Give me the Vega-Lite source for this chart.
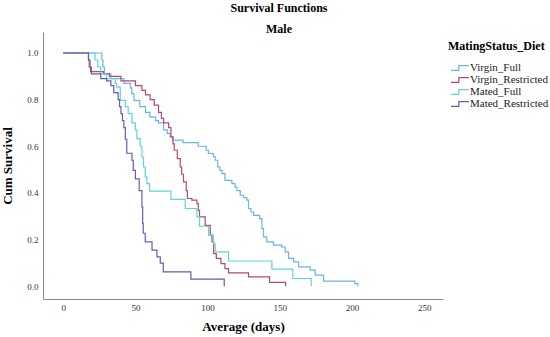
{
  "$schema": "https://vega.github.io/schema/vega-lite/v6.json",
  "width": 400,
  "height": 267,
  "autosize": {"type": "none"},
  "padding": {"left": 43, "top": 32, "right": 107, "bottom": 38},
  "background": "white",
  "title": {
    "text": "Survival Functions",
    "subtitle": "Male",
    "anchor": "middle",
    "frame": "group",
    "dx": 36,
    "offset": -4,
    "font": "Liberation Serif",
    "fontSize": 12,
    "fontWeight": "bold",
    "color": "#000",
    "subtitleFont": "Liberation Serif",
    "subtitleFontSize": 12,
    "subtitleFontWeight": "bold",
    "subtitleColor": "#000",
    "subtitlePadding": 9
  },
  "config": {
    "view": {"stroke": null},
    "axis": {
      "grid": false,
      "ticks": false,
      "domainColor": "#8a8a8a",
      "domainWidth": 1,
      "labelFont": "Liberation Serif",
      "labelFontSize": 9,
      "labelColor": "#333",
      "titleFont": "Liberation Serif",
      "titleFontSize": 13,
      "titleFontWeight": "bold",
      "titleColor": "#000"
    }
  },
  "data": {
    "values": [
      {"g": "Virgin_Full", "day": 0, "s": 1},
      {"g": "Virgin_Full", "day": 26.8, "s": 0.97},
      {"g": "Virgin_Full", "day": 27.5, "s": 0.94},
      {"g": "Virgin_Full", "day": 28.5, "s": 0.91},
      {"g": "Virgin_Full", "day": 33, "s": 0.89},
      {"g": "Virgin_Full", "day": 42, "s": 0.87},
      {"g": "Virgin_Full", "day": 46.5, "s": 0.85},
      {"g": "Virgin_Full", "day": 47.5, "s": 0.826},
      {"g": "Virgin_Full", "day": 49, "s": 0.797},
      {"g": "Virgin_Full", "day": 53, "s": 0.77},
      {"g": "Virgin_Full", "day": 57, "s": 0.745},
      {"g": "Virgin_Full", "day": 60, "s": 0.726},
      {"g": "Virgin_Full", "day": 64, "s": 0.71},
      {"g": "Virgin_Full", "day": 66, "s": 0.7},
      {"g": "Virgin_Full", "day": 69.5, "s": 0.67},
      {"g": "Virgin_Full", "day": 72, "s": 0.655},
      {"g": "Virgin_Full", "day": 74, "s": 0.64},
      {"g": "Virgin_Full", "day": 76, "s": 0.626},
      {"g": "Virgin_Full", "day": 83, "s": 0.616},
      {"g": "Virgin_Full", "day": 93.5, "s": 0.6},
      {"g": "Virgin_Full", "day": 99, "s": 0.583},
      {"g": "Virgin_Full", "day": 100.5, "s": 0.569},
      {"g": "Virgin_Full", "day": 104, "s": 0.555},
      {"g": "Virgin_Full", "day": 105.3, "s": 0.54},
      {"g": "Virgin_Full", "day": 107, "s": 0.511},
      {"g": "Virgin_Full", "day": 108.5, "s": 0.497},
      {"g": "Virgin_Full", "day": 110, "s": 0.483},
      {"g": "Virgin_Full", "day": 112, "s": 0.454},
      {"g": "Virgin_Full", "day": 116.8, "s": 0.44},
      {"g": "Virgin_Full", "day": 119, "s": 0.425},
      {"g": "Virgin_Full", "day": 120.3, "s": 0.41},
      {"g": "Virgin_Full", "day": 122.6, "s": 0.39},
      {"g": "Virgin_Full", "day": 125, "s": 0.38},
      {"g": "Virgin_Full", "day": 127.2, "s": 0.369},
      {"g": "Virgin_Full", "day": 128.3, "s": 0.333},
      {"g": "Virgin_Full", "day": 130, "s": 0.318},
      {"g": "Virgin_Full", "day": 131.8, "s": 0.304},
      {"g": "Virgin_Full", "day": 136, "s": 0.29},
      {"g": "Virgin_Full", "day": 137.6, "s": 0.247},
      {"g": "Virgin_Full", "day": 138.7, "s": 0.211},
      {"g": "Virgin_Full", "day": 141, "s": 0.19},
      {"g": "Virgin_Full", "day": 145.6, "s": 0.176},
      {"g": "Virgin_Full", "day": 151.4, "s": 0.168},
      {"g": "Virgin_Full", "day": 153.7, "s": 0.147},
      {"g": "Virgin_Full", "day": 156, "s": 0.119},
      {"g": "Virgin_Full", "day": 159.5, "s": 0.104},
      {"g": "Virgin_Full", "day": 163, "s": 0.083},
      {"g": "Virgin_Full", "day": 171, "s": 0.069},
      {"g": "Virgin_Full", "day": 174.5, "s": 0.047},
      {"g": "Virgin_Full", "day": 180.3, "s": 0.022},
      {"g": "Virgin_Full", "day": 202, "s": 0.011},
      {"g": "Virgin_Full", "day": 204, "s": 0},

      {"g": "Virgin_Restricted", "day": 0, "s": 1},
      {"g": "Virgin_Restricted", "day": 17.5, "s": 0.97},
      {"g": "Virgin_Restricted", "day": 18, "s": 0.94},
      {"g": "Virgin_Restricted", "day": 19, "s": 0.92},
      {"g": "Virgin_Restricted", "day": 28, "s": 0.91},
      {"g": "Virgin_Restricted", "day": 32, "s": 0.9},
      {"g": "Virgin_Restricted", "day": 40, "s": 0.88},
      {"g": "Virgin_Restricted", "day": 50, "s": 0.86},
      {"g": "Virgin_Restricted", "day": 54.5, "s": 0.84},
      {"g": "Virgin_Restricted", "day": 57, "s": 0.82},
      {"g": "Virgin_Restricted", "day": 60.2, "s": 0.8},
      {"g": "Virgin_Restricted", "day": 63, "s": 0.776},
      {"g": "Virgin_Restricted", "day": 66, "s": 0.745},
      {"g": "Virgin_Restricted", "day": 68, "s": 0.72},
      {"g": "Virgin_Restricted", "day": 69.5, "s": 0.7},
      {"g": "Virgin_Restricted", "day": 73, "s": 0.68},
      {"g": "Virgin_Restricted", "day": 74.6, "s": 0.64},
      {"g": "Virgin_Restricted", "day": 76, "s": 0.61},
      {"g": "Virgin_Restricted", "day": 76.9, "s": 0.583},
      {"g": "Virgin_Restricted", "day": 79, "s": 0.547},
      {"g": "Virgin_Restricted", "day": 81, "s": 0.511},
      {"g": "Virgin_Restricted", "day": 82, "s": 0.48},
      {"g": "Virgin_Restricted", "day": 83.3, "s": 0.447},
      {"g": "Virgin_Restricted", "day": 85.2, "s": 0.41},
      {"g": "Virgin_Restricted", "day": 86, "s": 0.376},
      {"g": "Virgin_Restricted", "day": 89.1, "s": 0.369},
      {"g": "Virgin_Restricted", "day": 92.6, "s": 0.354},
      {"g": "Virgin_Restricted", "day": 93.5, "s": 0.325},
      {"g": "Virgin_Restricted", "day": 94.4, "s": 0.297},
      {"g": "Virgin_Restricted", "day": 98.3, "s": 0.261},
      {"g": "Virgin_Restricted", "day": 101.8, "s": 0.219},
      {"g": "Virgin_Restricted", "day": 103, "s": 0.19},
      {"g": "Virgin_Restricted", "day": 104.2, "s": 0.14},
      {"g": "Virgin_Restricted", "day": 106, "s": 0.119},
      {"g": "Virgin_Restricted", "day": 109.2, "s": 0.097},
      {"g": "Virgin_Restricted", "day": 112, "s": 0.075},
      {"g": "Virgin_Restricted", "day": 114.5, "s": 0.057},
      {"g": "Virgin_Restricted", "day": 128.3, "s": 0.04},
      {"g": "Virgin_Restricted", "day": 142.9, "s": 0.016},
      {"g": "Virgin_Restricted", "day": 154, "s": 0},

      {"g": "Mated_Full", "day": 0, "s": 1},
      {"g": "Mated_Full", "day": 22, "s": 0.97},
      {"g": "Mated_Full", "day": 24, "s": 0.94},
      {"g": "Mated_Full", "day": 26, "s": 0.91},
      {"g": "Mated_Full", "day": 30, "s": 0.89},
      {"g": "Mated_Full", "day": 36, "s": 0.87},
      {"g": "Mated_Full", "day": 37, "s": 0.854},
      {"g": "Mated_Full", "day": 39.5, "s": 0.797},
      {"g": "Mated_Full", "day": 43, "s": 0.77},
      {"g": "Mated_Full", "day": 45, "s": 0.74},
      {"g": "Mated_Full", "day": 47.6, "s": 0.7},
      {"g": "Mated_Full", "day": 50, "s": 0.67},
      {"g": "Mated_Full", "day": 51, "s": 0.633},
      {"g": "Mated_Full", "day": 53.3, "s": 0.6},
      {"g": "Mated_Full", "day": 54.5, "s": 0.554},
      {"g": "Mated_Full", "day": 55.6, "s": 0.511},
      {"g": "Mated_Full", "day": 56.8, "s": 0.468},
      {"g": "Mated_Full", "day": 58, "s": 0.44},
      {"g": "Mated_Full", "day": 59.8, "s": 0.408},
      {"g": "Mated_Full", "day": 74.6, "s": 0.372},
      {"g": "Mated_Full", "day": 84.5, "s": 0.333},
      {"g": "Mated_Full", "day": 92.6, "s": 0.297},
      {"g": "Mated_Full", "day": 94.4, "s": 0.257},
      {"g": "Mated_Full", "day": 100.6, "s": 0.219},
      {"g": "Mated_Full", "day": 104, "s": 0.183},
      {"g": "Mated_Full", "day": 105.3, "s": 0.147},
      {"g": "Mated_Full", "day": 114.5, "s": 0.108},
      {"g": "Mated_Full", "day": 144.5, "s": 0.073},
      {"g": "Mated_Full", "day": 159, "s": 0.033},
      {"g": "Mated_Full", "day": 171.7, "s": 0},

      {"g": "Mated_Restricted", "day": 0, "s": 1},
      {"g": "Mated_Restricted", "day": 17.5, "s": 0.97},
      {"g": "Mated_Restricted", "day": 18.5, "s": 0.94},
      {"g": "Mated_Restricted", "day": 19.5, "s": 0.91},
      {"g": "Mated_Restricted", "day": 26, "s": 0.89},
      {"g": "Mated_Restricted", "day": 30, "s": 0.88},
      {"g": "Mated_Restricted", "day": 33, "s": 0.86},
      {"g": "Mated_Restricted", "day": 35, "s": 0.83},
      {"g": "Mated_Restricted", "day": 38, "s": 0.8},
      {"g": "Mated_Restricted", "day": 39, "s": 0.77},
      {"g": "Mated_Restricted", "day": 40, "s": 0.74},
      {"g": "Mated_Restricted", "day": 41, "s": 0.71},
      {"g": "Mated_Restricted", "day": 42, "s": 0.68},
      {"g": "Mated_Restricted", "day": 43, "s": 0.63},
      {"g": "Mated_Restricted", "day": 44, "s": 0.57},
      {"g": "Mated_Restricted", "day": 47.6, "s": 0.54},
      {"g": "Mated_Restricted", "day": 48.5, "s": 0.497},
      {"g": "Mated_Restricted", "day": 50, "s": 0.46},
      {"g": "Mated_Restricted", "day": 52.6, "s": 0.41},
      {"g": "Mated_Restricted", "day": 54.5, "s": 0.34},
      {"g": "Mated_Restricted", "day": 55, "s": 0.27},
      {"g": "Mated_Restricted", "day": 55.4, "s": 0.227},
      {"g": "Mated_Restricted", "day": 56.8, "s": 0.19},
      {"g": "Mated_Restricted", "day": 61.5, "s": 0.155},
      {"g": "Mated_Restricted", "day": 64.9, "s": 0.126},
      {"g": "Mated_Restricted", "day": 67.2, "s": 0.099},
      {"g": "Mated_Restricted", "day": 69.3, "s": 0.061},
      {"g": "Mated_Restricted", "day": 88.4, "s": 0.03},
      {"g": "Mated_Restricted", "day": 111.5, "s": 0}
    ]
  },
  "mark": {"type": "line", "interpolate": "step-after", "strokeWidth": 1.2, "clip": true},
  "encoding": {
    "x": {
      "field": "day",
      "type": "quantitative",
      "scale": {"domain": [-14, 263], "nice": false, "zero": false},
      "axis": {"values": [0, 50, 100, 150, 200, 250], "title": "Average (days)", "labelPadding": 4, "titlePadding": 8}
    },
    "y": {
      "field": "s",
      "type": "quantitative",
      "scale": {"domain": [-0.055, 1.09], "nice": false, "zero": false},
      "axis": {"values": [0, 0.2, 0.4, 0.6, 0.8, 1.0], "format": ".1f", "title": "Cum Survival", "labelPadding": 5, "titlePadding": 12}
    },
    "color": {
      "field": "g",
      "type": "nominal",
      "scale": {
        "domain": ["Virgin_Full", "Virgin_Restricted", "Mated_Full", "Mated_Restricted"],
        "range": ["#66b6e6", "#b44a6e", "#5fd6d8", "#6b5aae"]
      },
      "legend": {
        "title": "MatingStatus_Diet",
        "orient": "none",
        "legendX": 405,
        "legendY": 9,
        "titleFont": "Liberation Serif",
        "titleFontSize": 12,
        "titleFontWeight": "bold",
        "titleColor": "#000",
        "titlePadding": 8,
        "labelFont": "Liberation Serif",
        "labelFontSize": 11,
        "labelColor": "#222",
        "labelOffset": 3,
        "rowPadding": 0,
        "symbolOffset": 5,
        "symbolType": "M-1.5,0.4H-0.2V-0.4H1.5",
        "symbolSize": 144,
        "symbolStrokeWidth": 1.2
      }
    },
    "order": {"field": "day", "type": "quantitative"}
  }
}
